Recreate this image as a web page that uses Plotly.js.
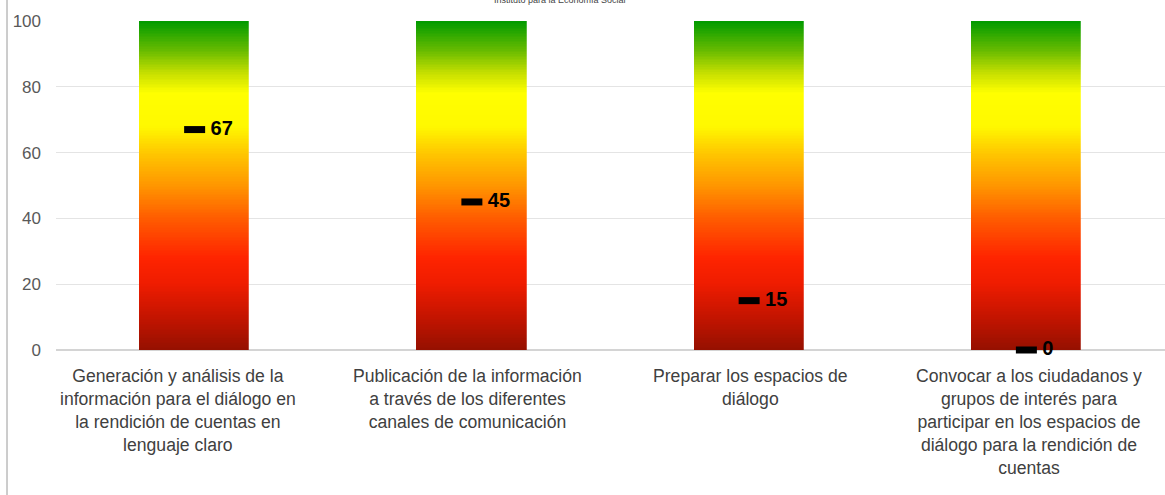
<!DOCTYPE html>
<html>
<head>
<meta charset="utf-8">
<script src="https://cdn.plot.ly/plotly-3.0.1.min.js"></script>
<style>html,body{margin:0;padding:0;background:#fff;}#chart{width:1165px;height:495px;}</style>
</head>
<body>
<div id="chart"></div>
<script>
// Data
var categories = [
  "Generación y análisis de la<br>información para el diálogo en<br>la rendición de cuentas en<br>lenguaje claro",
  "Publicación de la información<br>a través de los diferentes<br>canales de comunicación",
  "Preparar los espacios de<br>diálogo",
  "Convocar a los ciudadanos y<br>grupos de interés para<br>participar en los espacios de<br>diálogo para la rendición de<br>cuentas"
];
var scores = [67, 45, 15, 0];
var scaleMax = 100;
var sourceText = "Instituto para la Economía Social";

// Style: per-label horizontal nudges (px) seen in the reference
var labelShift = [-17, -4, 1, 3];

// Gradient scale for the background bars (style)
var gradientScale = [
  [0.00, "#951000"],
  [0.10, "#c41400"],
  [0.20, "#ee1c00"],
  [0.28, "#ff2400"],
  [0.40, "#ff5c00"],
  [0.50, "#ff9600"],
  [0.60, "#ffc800"],
  [0.68, "#fff800"],
  [0.78, "#ffff00"],
  [0.84, "#c8e000"],
  [0.91, "#68bb00"],
  [1.00, "#009a00"]
];

// Build gradient columns spanning 0..scaleMax
var steps = 200;
var yEdges = [], zRows = [];
for (var i = 0; i <= steps; i++) yEdges.push(scaleMax * i / steps);
for (var j = 0; j < steps; j++) {
  var mid = scaleMax * (j + 0.5) / steps;
  zRows.push(categories.map(function(){ return mid; }));
}

var plotLeft = 56, plotRight = 0, plotW = 1165 - plotLeft - plotRight;
var catW = plotW / categories.length;
var barW = 110;

var traces = [
  {
    type: "heatmap",
    x: categories,
    y: yEdges,
    z: zRows,
    zmin: 0, zmax: scaleMax,
    colorscale: gradientScale,
    showscale: false,
    xgap: catW - barW,
    hoverinfo: "skip"
  },
  {
    type: "scatter",
    mode: "markers+text",
    x: categories,
    y: scores,
    text: scores.map(function(v){ return "\u00a0" + v; }),
    textposition: "middle right",
    textfont: {family: "Liberation Sans, Arial, sans-serif", size: 20, color: "#000", weight: "bold"},
    marker: {symbol: "line-ew", size: 15, line: {width: 7, color: "#000"}, color: "#000"},
    cliponaxis: false,
    hoverinfo: "skip"
  }
];

var annotations = categories.map(function(c, k){
  return {
    text: c, xref: "x", yref: "paper", x: c, y: 0,
    xanchor: "center", yanchor: "top", yshift: -14, xshift: labelShift[k],
    showarrow: false, align: "center",
    font: {size: 17.6, color: "#404040"}
  };
});
annotations.push({text: sourceText, xref: "paper", yref: "paper",
  x: (560 - plotLeft) / plotW, y: 1 + 21 / 329,
  xanchor: "center", yanchor: "middle", showarrow: false,
  font: {size: 9, color: "#444"}});

var layout = {
  width: 1165, height: 495,
  margin: {l: plotLeft, r: plotRight, t: 21, b: 145, pad: 0},
  paper_bgcolor: "#fff", plot_bgcolor: "#fff",
  showlegend: false,
  font: {family: "Liberation Sans, Arial, sans-serif", color: "#404040"},
  xaxis: {
    type: "category",
    range: [-0.5, categories.length - 0.5],
    showgrid: false, zeroline: false, showline: false,
    ticks: "", showticklabels: false,
    fixedrange: true
  },
  yaxis: {
    range: [0, scaleMax],
    dtick: 20,
    showgrid: true, gridcolor: "#e4e4e4", gridwidth: 1,
    zeroline: true, zerolinecolor: "#d4d4d4", zerolinewidth: 2,
    showline: false, ticks: "",
    tickfont: {size: 17, color: "#595959"},
    ticklabelstandoff: 14,
    fixedrange: true
  },
  shapes: [
    {type: "line", xref: "paper", yref: "paper",
     x0: (7 - plotLeft) / plotW, x1: (7 - plotLeft) / plotW,
     y0: -145 / 329, y1: 1 + 21 / 329,
     line: {color: "#9a9a9a", width: 1}}
  ],
  annotations: annotations
};

Plotly.newPlot("chart", traces, layout, {displayModeBar: false, staticPlot: true});
</script>
</body>
</html>
